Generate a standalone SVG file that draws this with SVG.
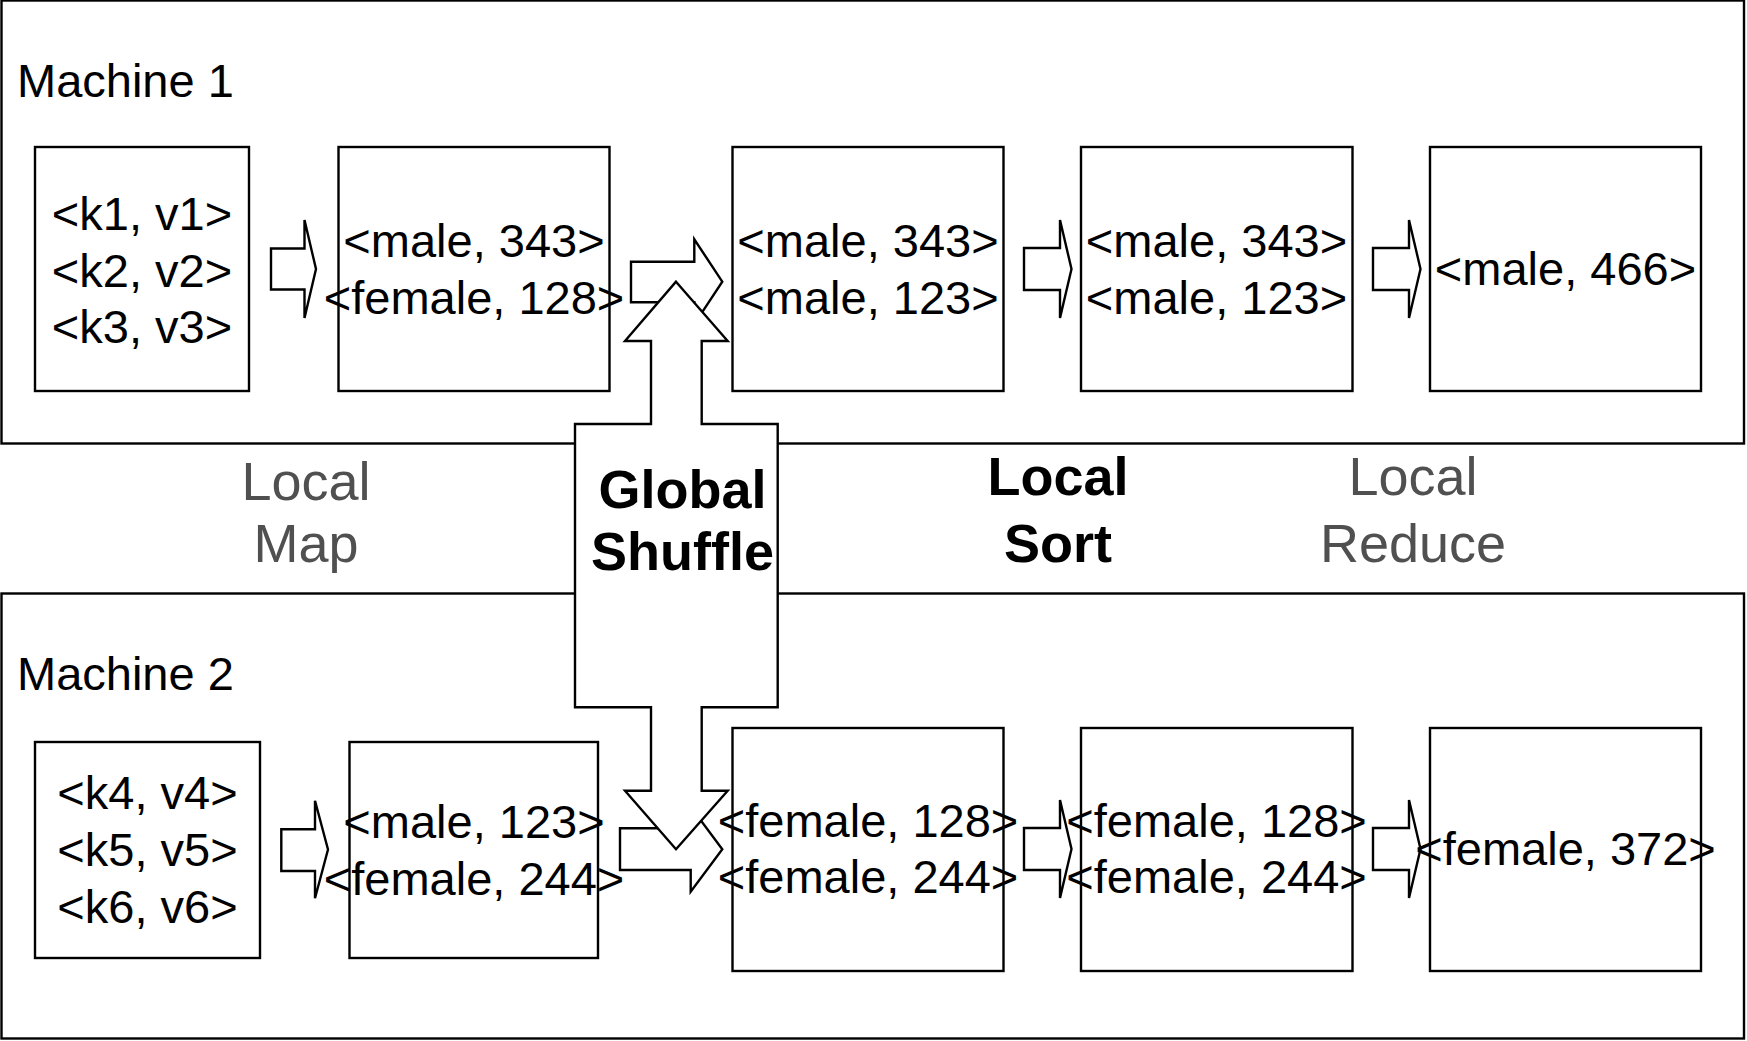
<svg xmlns="http://www.w3.org/2000/svg" width="1747" height="1041" viewBox="0 0 1747 1041">
  <style>
    .frame { fill: #ffffff; stroke: #000000; stroke-width: 2.4; }
    .box { fill: #ffffff; stroke: #000000; stroke-width: 2.4; }
    .flow { fill: #ffffff; stroke: #000000; stroke-width: 2.4; stroke-linejoin: miter; }
    .t { font-family: "Liberation Sans", Arial, sans-serif; font-size: 47px; fill: #000000; text-anchor: middle; }
    .mlabel { font-family: "Liberation Sans", Arial, sans-serif; font-size: 47px; fill: #000000; }
    .stage { font-family: "Liberation Sans", Arial, sans-serif; font-size: 54px; fill: #505050; text-anchor: middle; }
    .stage-b { font-family: "Liberation Sans", Arial, sans-serif; font-size: 54px; font-weight: bold; fill: #000000; text-anchor: middle; }
  </style>

  <rect x="0" y="0" width="1747" height="1041" fill="#ffffff"/>

  <!-- machine containers -->
  <g id="machine1">
    <rect class="frame" x="1.5" y="0.5" width="1742.5" height="443"/>
    <text class="mlabel" x="17" y="97">Machine 1</text>
  </g>
  <g id="machine2">
    <rect class="frame" x="1.5" y="593.5" width="1742.5" height="445"/>
    <text class="mlabel" x="17" y="690">Machine 2</text>
  </g>

  <!-- machine 1 pipeline -->
  <g id="m1-input">
    <rect class="box" x="35" y="147" width="214" height="244"/>
    <text class="t" x="142" y="230">&lt;k1, v1&gt;</text>
    <text class="t" x="142" y="287">&lt;k2, v2&gt;</text>
    <text class="t" x="142" y="343">&lt;k3, v3&gt;</text>
  </g>
  <g id="m1-mapped">
    <rect class="box" x="338.5" y="147" width="271" height="244"/>
  </g>
  <g id="m1-shuffled">
    <rect class="box" x="732.5" y="147" width="271" height="244"/>
  </g>
  <g id="m1-sorted">
    <rect class="box" x="1081" y="147" width="271.5" height="244"/>
  </g>
  <g id="m1-reduced">
    <rect class="box" x="1430" y="147" width="271" height="244"/>
  </g>

  <!-- machine 2 pipeline -->
  <g id="m2-input">
    <rect class="box" x="35" y="742" width="225" height="216"/>
    <text class="t" x="147.5" y="809">&lt;k4, v4&gt;</text>
    <text class="t" x="147.5" y="866">&lt;k5, v5&gt;</text>
    <text class="t" x="147.5" y="923">&lt;k6, v6&gt;</text>
  </g>
  <g id="m2-mapped">
    <rect class="box" x="349.5" y="742" width="248.5" height="216"/>
  </g>
  <g id="m2-shuffled">
    <rect class="box" x="732.5" y="728" width="271" height="243"/>
  </g>
  <g id="m2-sorted">
    <rect class="box" x="1081" y="728" width="271.5" height="243"/>
  </g>
  <g id="m2-reduced">
    <rect class="box" x="1430" y="728" width="271" height="243"/>
  </g>

  <!-- block arrows between stages -->
  <g id="connectors">
    <polygon class="flow" points="271,248.5 304.5,248.5 304.5,220 316,269 304.5,318 304.5,289.5 271,289.5"/>
    <polygon class="flow" points="631,261.7 694.3,261.7 694.3,239.3 722.3,281.7 694.3,324.1 694.3,302.3 631,302.3"/>
    <polygon class="flow" points="1024,248 1060,248 1060,220 1071.5,269 1060,318 1060,290 1024,290"/>
    <polygon class="flow" points="1373,248 1409,248 1409,220 1420.5,269 1409,318 1409,290 1373,290"/>

    <polygon class="flow" points="281.3,829.3 315,829.3 315,800.7 328,849.5 315,898.3 315,871 281.3,871"/>
    <polygon class="flow" points="620,828.3 690.7,828.3 690.7,806.9 722.3,849.3 690.7,891.7 690.7,870 620,870"/>
    <polygon class="flow" points="1024,828 1060,828 1060,800 1071.5,849 1060,898 1060,870 1024,870"/>
    <polygon class="flow" points="1373,828 1409,828 1409,800 1420.5,849 1409,898 1409,870 1373,870"/>

    <!-- global shuffle: double-headed block arrow across both machines -->
    <polygon id="shuffle" class="flow" points="676,281.7 727.7,341 701.7,341 701.7,424 777.7,424 777.7,707.3 701.7,707.3 701.7,790.7 727.7,790.7 676,849.3 625,790.7 651,790.7 651,707.3 575,707.3 575,424 651,424 651,341 625,341"/>
  </g>

  <!-- key/value contents -->
  <g id="m1-values">
    <text class="t" x="474" y="257">&lt;male, 343&gt;</text>
    <text class="t" x="474" y="313.5">&lt;female, 128&gt;</text>
    <text class="t" x="868" y="257">&lt;male, 343&gt;</text>
    <text class="t" x="868" y="313.5">&lt;male, 123&gt;</text>
    <text class="t" x="1216.5" y="257">&lt;male, 343&gt;</text>
    <text class="t" x="1216.5" y="313.5">&lt;male, 123&gt;</text>
    <text class="t" x="1565.5" y="285">&lt;male, 466&gt;</text>
  </g>
  <g id="m2-values">
    <text class="t" x="474" y="838.3">&lt;male, 123&gt;</text>
    <text class="t" x="474" y="895">&lt;female, 244&gt;</text>
    <text class="t" x="868" y="836.7">&lt;female, 128&gt;</text>
    <text class="t" x="868" y="893.3">&lt;female, 244&gt;</text>
    <text class="t" x="1216.5" y="836.7">&lt;female, 128&gt;</text>
    <text class="t" x="1216.5" y="893.3">&lt;female, 244&gt;</text>
    <text class="t" x="1565.5" y="865">&lt;female, 372&gt;</text>
  </g>

  <!-- stage labels -->
  <g id="stage-labels">
    <text class="stage" x="306" y="500">Local</text>
    <text class="stage" x="306" y="562">Map</text>
    <text class="stage-b" x="682.5" y="508">Global</text>
    <text class="stage-b" x="682.5" y="570">Shuffle</text>
    <text class="stage-b" x="1058" y="495">Local</text>
    <text class="stage-b" x="1058" y="561.5">Sort</text>
    <text class="stage" x="1413" y="495">Local</text>
    <text class="stage" x="1413" y="561.5">Reduce</text>
  </g>
</svg>
